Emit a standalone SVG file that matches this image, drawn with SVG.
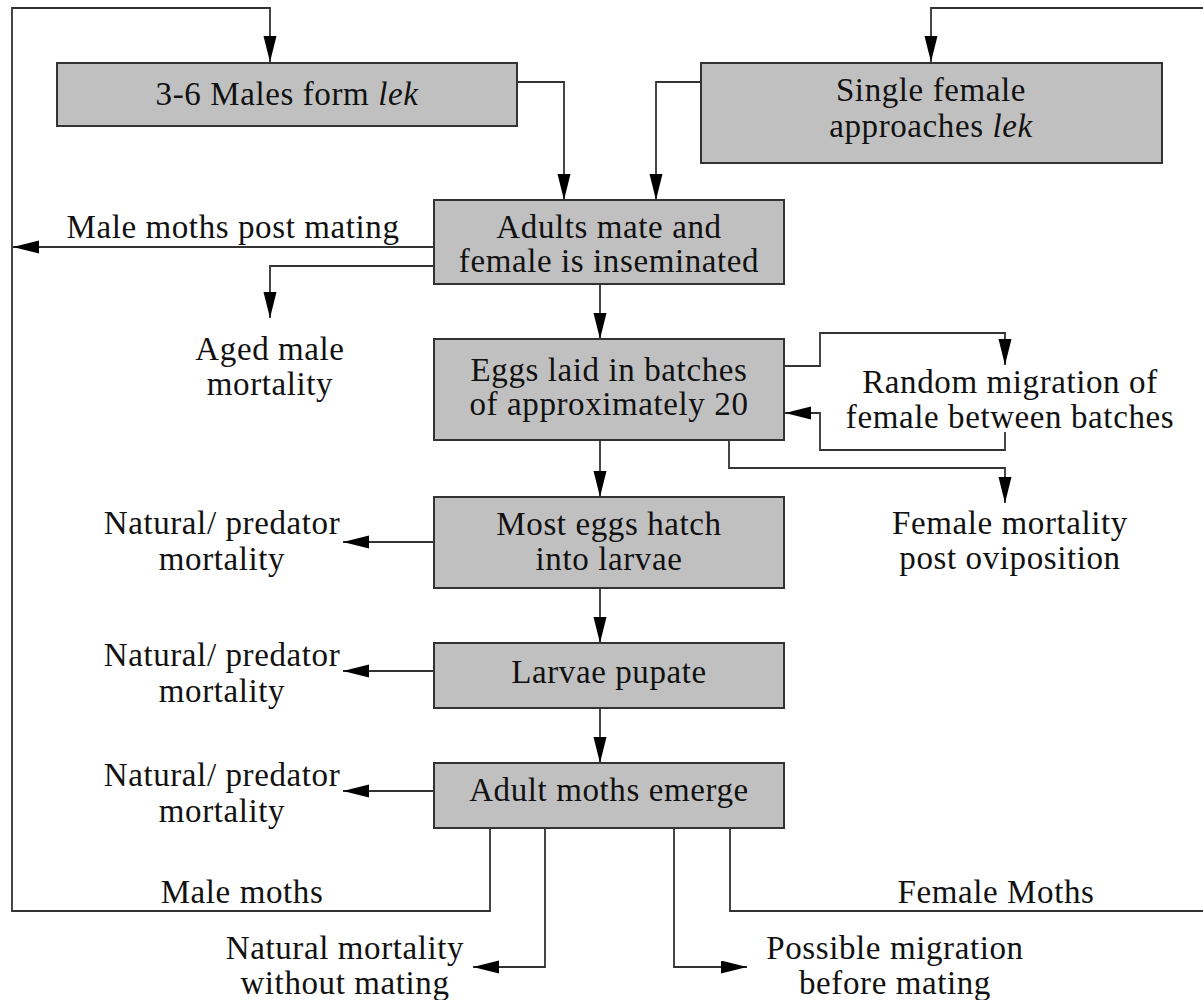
<svg xmlns="http://www.w3.org/2000/svg" width="1203" height="1000" viewBox="0 0 1203 1000">
<style>
  .box { fill: #c0c0c0; stroke: #333; stroke-width: 2; }
  .t { font-size: 33px; fill: #111; text-anchor: middle; letter-spacing: 0.6px; }
  .c { fill: none; stroke: #333; stroke-width: 1.8; }
</style>
<defs>
  <marker id="ah" markerUnits="userSpaceOnUse" markerWidth="28" markerHeight="14" refX="26" refY="6.5" orient="auto">
    <path d="M0,0 L26,6.5 L0,13 z" fill="#000"/>
  </marker>
</defs>
<rect width="1203" height="1000" fill="#fff"/>
<g id="connectors">
  <path class="c" d="M490,828 V911 H12 V8 H270 V62" marker-end="url(#ah)"/>
  <path class="c" d="M730,828 V911 H1215 V8 H931 V62" marker-end="url(#ah)"/>
  <path class="c" d="M517,82 H564 V200" marker-end="url(#ah)"/>
  <path class="c" d="M701,82 H656 V200" marker-end="url(#ah)"/>
  <path class="c" d="M434,247 H13" marker-end="url(#ah)"/>
  <path class="c" d="M434,266 H270 V318" marker-end="url(#ah)"/>
  <path class="c" d="M600,284 V339" marker-end="url(#ah)"/>
  <path class="c" d="M784,366 H820 V333 H1005 V365" marker-end="url(#ah)"/>
  <path class="c" d="M1005,432 V450 H820 V413 H785" marker-end="url(#ah)"/>
  <path class="c" d="M729,440 V468 H1005 V503" marker-end="url(#ah)"/>
  <path class="c" d="M600,440 V497" marker-end="url(#ah)"/>
  <path class="c" d="M434,542 H343" marker-end="url(#ah)"/>
  <path class="c" d="M600,588 V643" marker-end="url(#ah)"/>
  <path class="c" d="M434,671 H343" marker-end="url(#ah)"/>
  <path class="c" d="M600,708 V763" marker-end="url(#ah)"/>
  <path class="c" d="M434,791 H343" marker-end="url(#ah)"/>
  <path class="c" d="M545,828 V967 H473" marker-end="url(#ah)"/>
  <path class="c" d="M674,828 V967 H747" marker-end="url(#ah)"/>
</g>
<g id="n-males-lek">
  <rect class="box" x="57" y="63" width="460" height="63"/>
  <text class="t" font-family="Liberation Serif" x="287" y="105">3-6 Males form <tspan font-style="italic">lek</tspan></text>
</g>
<g id="n-single-female">
  <rect class="box" x="701" y="63" width="461" height="100"/>
  <text class="t" font-family="Liberation Serif" x="931" y="101">Single female</text>
  <text class="t" font-family="Liberation Serif" x="931" y="137">approaches <tspan font-style="italic">lek</tspan></text>
</g>
<g id="n-adults-mate">
  <rect class="box" x="434" y="200" width="350" height="84"/>
  <text class="t" font-family="Liberation Serif" x="609" y="238">Adults mate and</text>
  <text class="t" font-family="Liberation Serif" x="609" y="272">female is inseminated</text>
</g>
<g id="n-eggs-laid">
  <rect class="box" x="434" y="339" width="350" height="101"/>
  <text class="t" font-family="Liberation Serif" x="609" y="381">Eggs laid in batches</text>
  <text class="t" font-family="Liberation Serif" x="609" y="415">of approximately 20</text>
</g>
<g id="n-eggs-hatch">
  <rect class="box" x="434" y="497" width="350" height="91"/>
  <text class="t" font-family="Liberation Serif" x="609" y="535">Most eggs hatch</text>
  <text class="t" font-family="Liberation Serif" x="609" y="570">into larvae</text>
</g>
<g id="n-larvae-pupate">
  <rect class="box" x="434" y="643" width="350" height="65"/>
  <text class="t" font-family="Liberation Serif" x="609" y="683">Larvae pupate</text>
</g>
<g id="n-adults-emerge">
  <rect class="box" x="434" y="763" width="350" height="65"/>
  <text class="t" font-family="Liberation Serif" x="609" y="801">Adult moths emerge</text>
</g>
<g id="n-male-post-mating">
  <text class="t" font-family="Liberation Serif" x="233" y="238">Male moths post mating</text>
</g>
<g id="n-aged-male">
  <text class="t" font-family="Liberation Serif" x="270" y="360">Aged male</text>
  <text class="t" font-family="Liberation Serif" x="270" y="395">mortality</text>
</g>
<g id="n-random-migration">
  <text class="t" font-family="Liberation Serif" x="1010" y="393">Random migration of</text>
  <text class="t" font-family="Liberation Serif" x="1010" y="428">female between batches</text>
</g>
<g id="n-female-mortality">
  <text class="t" font-family="Liberation Serif" x="1010" y="534">Female mortality</text>
  <text class="t" font-family="Liberation Serif" x="1010" y="569">post oviposition</text>
</g>
<g id="n-pred-1">
  <text class="t" font-family="Liberation Serif" x="222" y="534">Natural/ predator</text>
  <text class="t" font-family="Liberation Serif" x="222" y="570">mortality</text>
</g>
<g id="n-pred-2">
  <text class="t" font-family="Liberation Serif" x="222" y="666">Natural/ predator</text>
  <text class="t" font-family="Liberation Serif" x="222" y="702">mortality</text>
</g>
<g id="n-pred-3">
  <text class="t" font-family="Liberation Serif" x="222" y="786">Natural/ predator</text>
  <text class="t" font-family="Liberation Serif" x="222" y="822">mortality</text>
</g>
<g id="n-male-moths">
  <text class="t" font-family="Liberation Serif" x="242" y="903">Male moths</text>
</g>
<g id="n-female-moths">
  <text class="t" font-family="Liberation Serif" x="996" y="903">Female Moths</text>
</g>
<g id="n-natural-no-mating">
  <text class="t" font-family="Liberation Serif" x="345" y="959">Natural mortality</text>
  <text class="t" font-family="Liberation Serif" x="345" y="994">without mating</text>
</g>
<g id="n-possible-migration">
  <text class="t" font-family="Liberation Serif" x="895" y="959">Possible migration</text>
  <text class="t" font-family="Liberation Serif" x="895" y="994">before mating</text>
</g>
</svg>
